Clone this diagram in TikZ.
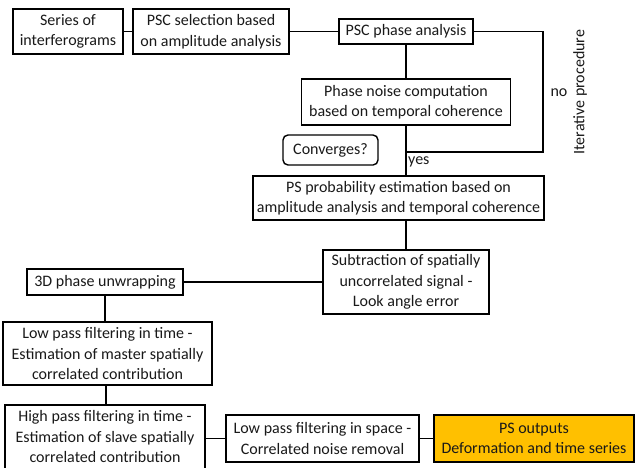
\documentclass[tikz,border=0pt]{standalone}
\usepackage{fontspec}
\setmainfont{Carlito}
\definecolor{psorange}{HTML}{FFC000}
\begin{document}
\begin{tikzpicture}[x=1pt,y=-1pt,
  every node/.style={font=\fontsize{16}{20.5}\selectfont, text=black!90},
  boxx/.style={draw, line width=1.4pt, rectangle, align=center, inner sep=0pt},
  conn/.style={line width=1.5pt}]
\useasboundingbox (0,0) rectangle (643,467);
\node[boxx, minimum width=110pt, minimum height=45pt] (ser) at (68,31.5) {Series of\\interferograms};
\node[boxx, minimum width=156pt, minimum height=45pt] (psc) at (211,31.5) {PSC selection based\\on amplitude analysis};
\node[boxx, minimum width=134pt, minimum height=25pt] (phase) at (406,31.5) {PSC phase analysis};
\node[boxx, minimum width=209pt, minimum height=46pt] (noise) at (406,102) {Phase noise computation\\based on temporal coherence};
\node[boxx, rounded corners=5pt, minimum width=95pt, minimum height=30pt] (conv) at (330.5,150) {Converges?};
\node[boxx, minimum width=291pt, minimum height=44pt] (prob) at (398.5,198) {PS probability estimation based on\\amplitude analysis and temporal coherence};
\node[boxx, minimum width=166pt, minimum height=64pt] (sub) at (406,282) {Subtraction of spatially\\uncorrelated signal -\\Look angle error};
\node[boxx, minimum width=156pt, minimum height=26pt] (unw) at (105,282) {3D phase unwrapping};
\node[boxx, minimum width=209pt, minimum height=63pt] (lpt) at (107.5,353.5) {Low pass filtering in time -\\Estimation of master spatially\\correlated contribution};
\node[boxx, minimum width=200pt, minimum height=66pt] (hpt) at (105,438) {};
\node[align=center, inner sep=0pt] (hpttext) at (105,436.5) {High pass filtering in time -\\Estimation of slave spatially\\correlated contribution};
\node[boxx, minimum width=193pt, minimum height=47pt] (lps) at (322.5,438.5) {Low pass filtering in space -\\Correlated noise removal};
\node[boxx, fill=psorange, minimum width=200pt, minimum height=47pt] (out) at (534,438.5) {PS outputs\\Deformation and time series};
\coordinate (c1) at (543,31.5);
\coordinate (c2) at (543,152);
\coordinate (c3) at (406,152);
\draw[conn] (ser) -- (psc);
\draw[conn] (psc) -- (phase);
\draw[conn] (phase) -- (noise);
\draw[conn] (noise.south) -- (noise.south |- prob.north);
\draw[conn] (phase.east) -- (c1) -- (c2) -- (c3);
\draw[conn] (prob.south -| sub.north) -- (sub.north);
\draw[conn] (sub.west) -- (unw.east);
\draw[conn] (unw.south) -- (unw.south |- lpt.north);
\draw[conn] (lpt.south -| 106,0) -- (hpt.north -| 106,0);
\draw[conn] (hpt.east |- lps.west) -- (lps.west);
\draw[conn] (lps) -- (out);
\node[anchor=west, inner sep=0pt] (yes) at (408,162) {yes};
\node[inner sep=0pt] (no) at (559,93) {no};
\node[rotate=90, inner sep=0pt] (iter) at (580,92) {Iterative procedure};
\end{tikzpicture}
\end{document}
